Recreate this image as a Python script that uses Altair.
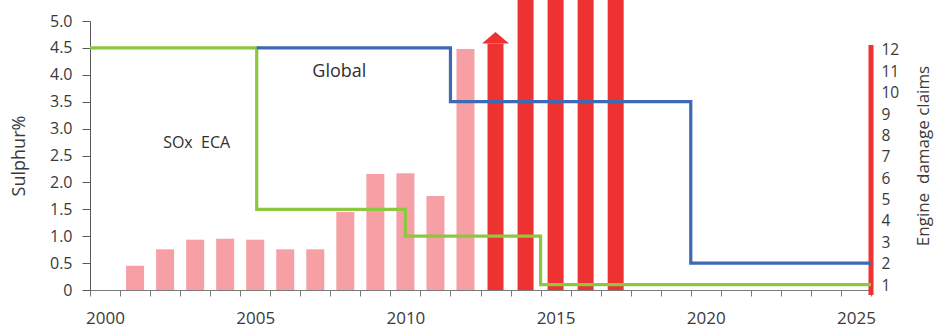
import altair as alt
import pandas as pd

# ---------------- data ----------------
YEARS = list(range(2001, 2018))
CLAIMS = [1.9, 2.67, 3.12, 3.17, 3.12, 2.67, 2.67, 4.42, 6.2, 6.23, 5.17,
          12.05, 12.3, 15.0, 15.0, 15.0, 15.0]
PERIOD = ["earlier"] * 12 + ["later"] * 5
ARROW_YEAR = [2013]

ECA_X = [1999.5, 2005.05, 2010.0, 2014.5, 2025.5]
ECA_S = [4.5, 1.5, 1.0, 0.1, 0.1]
GLOBAL_X = [2005.05, 2011.5, 2019.5, 2025.5]
GLOBAL_S = [4.5, 3.5, 0.5, 0.5]

NOTE_TEXT = ["Global", "SOx\u00a0 ECA"]
NOTE_X = [2007.8, 2003.05]
NOTE_Y = [4.05, 2.73]

X_DOMAIN = [1999.5, 2025.5]
X_TICKS = [1999.5 + i for i in range(27)]
S_DOMAIN = [0, 5]
S_TICKS = [i * 0.5 for i in range(11)]
C_DOMAIN = [0.766, 13.357]
C_TICKS = list(range(1, 13))
C_AXIS_SPAN = [0.53, 12.23]

# ---------------- tables ----------------
bars = pd.DataFrame({"year": YEARS, "claims": CLAIMS, "period": PERIOD})
arrow = bars[bars["year"].isin(ARROW_YEAR)]
lines = pd.concat([
    pd.DataFrame({"series": "SOx ECA", "year": ECA_X, "sulphur": ECA_S, "o": range(len(ECA_X))}),
    pd.DataFrame({"series": "Global", "year": GLOBAL_X, "sulphur": GLOBAL_S, "o": range(len(GLOBAL_X))}),
])
notes = pd.DataFrame({"label": NOTE_TEXT, "year": NOTE_X, "sulphur": NOTE_Y})
axis_span = pd.DataFrame({"year": [X_DOMAIN[1]], "lo": [C_AXIS_SPAN[0]], "hi": [C_AXIS_SPAN[1]]})

AXIS_GREY = "#7a7a7a"
TEXT = "#3a3a3a"
RED = "#EE3131"
PINK = "#F6A0A6"

x_scale = alt.Scale(domain=X_DOMAIN, nice=False, zero=False, padding=0)
x_axis = alt.Axis(
    values=X_TICKS,
    labelExpr="(datum.value + 0.5) % 5 == 0 ? format(datum.value + 0.5, 'd') : ''",
    labelOffset=15, labelOverlap=False, labelFlush=False,
    tickSize=6, labelPadding=14, grid=False, title=None,
    labelFontSize=17, labelColor=TEXT,
    domainColor=AXIS_GREY, tickColor=AXIS_GREY,
)

def X(field="year"):
    return alt.X(f"{field}:Q", scale=x_scale, axis=x_axis)

c_scale = alt.Scale(domain=C_DOMAIN, nice=False, zero=False)
s_scale = alt.Scale(domain=S_DOMAIN, nice=False, zero=True)

# ---------------- claims layers (right scale) ----------------
bar_layer = alt.Chart(bars).mark_bar(opacity=1).encode(
    x=X(),
    y=alt.Y("claims:Q", scale=c_scale, axis=alt.Axis(
        orient="right", values=C_TICKS, domain=False, ticks=False, grid=False,
        labelPadding=10, labelFontSize=15.5, labelColor=TEXT,
        title="Engine\u00a0 damage claims", titleFontSize=17, titleFontWeight="normal",
        titleColor=TEXT, titleAngle=270, titleBaseline="top", titleX=44, titleY=134.5,
    )),
    y2=alt.datum(C_DOMAIN[0]),
    color=alt.Color("period:N", scale=alt.Scale(domain=["earlier", "later"], range=[PINK, RED]), legend=None),
    size=alt.Size("period:N", scale=alt.Scale(domain=["earlier", "later"], range=[18, 16]), legend=None),
)

arrow_layer = alt.Chart(arrow).mark_point(
    shape="M-1,0L0,-0.85L1,0Z", filled=True, size=729, color=RED, opacity=1, strokeWidth=0
).encode(
    x=X(),
    y=alt.Y("claims:Q", scale=c_scale, axis=None),
)

red_axis = alt.Chart(axis_span).mark_rule(color=RED, strokeWidth=5).encode(
    x=X(),
    y=alt.Y("hi:Q", scale=c_scale, axis=None),
    y2="lo:Q",
)

# ---------------- sulphur layers (left scale) ----------------
line_layer = alt.Chart(lines).mark_line(interpolate="step-after", strokeWidth=3.2).encode(
    x=X(),
    y=alt.Y("sulphur:Q", scale=s_scale, axis=alt.Axis(
        orient="left", values=S_TICKS,
        labelExpr="datum.value == 0 ? '0' : format(datum.value, '.1f')",
        tickSize=8, labelPadding=10, grid=False,
        labelFontSize=16, labelColor=TEXT,
        domainColor="#5a5a5a", tickColor="#5a5a5a",
        title="Sulphur%", titleFontSize=18, titleFontWeight="normal", titleColor=TEXT,
        titleX=-62, titleY=134.5,
    )),
    color=alt.Color("series:N", scale=alt.Scale(domain=["SOx ECA", "Global"], range=["#8DC63F", "#3F68B5"]), legend=None),
    order="o:Q",
    detail="series:N",
)

note_layer = alt.Chart(notes).mark_text(align="center", baseline="middle", color="#2f2f2f").encode(
    x=X(),
    y=alt.Y("sulphur:Q", scale=s_scale, axis=None),
    text="label:N",
    size=alt.Size("label:N", scale=alt.Scale(domain=NOTE_TEXT, range=[18, 16]), legend=None),
)

chart = alt.layer(bar_layer, arrow_layer, red_axis, line_layer, note_layer).resolve_scale(
    y="independent", color="independent", size="independent"
).properties(
    width=781, height=269,
    autosize=alt.AutoSizeParams(type="none"),
    padding={"left": 90, "top": 21, "right": 75, "bottom": 39},
    background="white",
).configure(font="Open Sans").configure_view(stroke=None)

chart.save("out.html", embed_options={"renderer": "svg", "actions": False})
